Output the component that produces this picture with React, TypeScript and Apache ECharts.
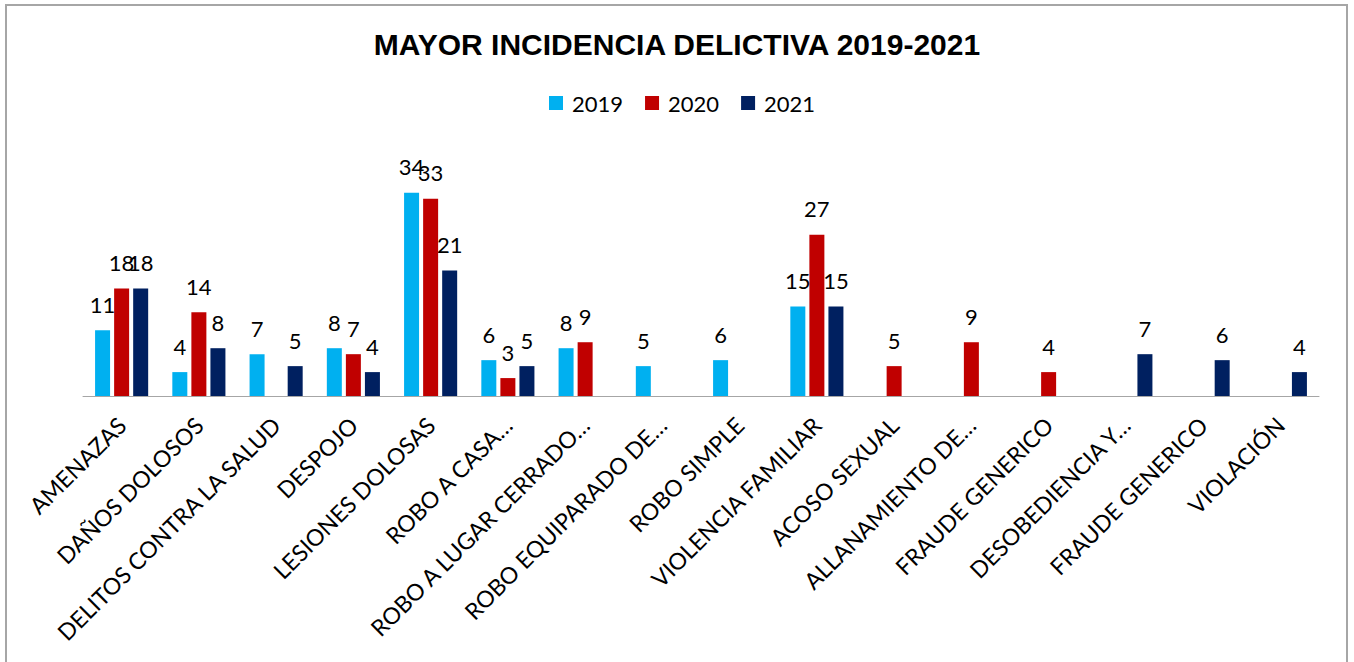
import React, { useEffect, useRef } from "react";
import * as echarts from "echarts";

const categories = [
  "AMENAZAS",
  "DAÑOS DOLOSOS",
  "DELITOS CONTRA LA SALUD",
  "DESPOJO",
  "LESIONES DOLOSAS",
  "ROBO A CASA…",
  "ROBO A LUGAR CERRADO…",
  "ROBO EQUIPARADO DE…",
  "ROBO SIMPLE",
  "VIOLENCIA FAMILIAR",
  "ACOSO SEXUAL",
  "ALLANAMIENTO DE…",
  "FRAUDE GENERICO",
  "DESOBEDIENCIA Y…",
  "FRAUDE GENERICO",
  "VIOLACIÓN",
];

const values2019 = [11, 4, 7, 8, 34, 6, 8, 5, 6, 15, null, null, null, null, null, null];
const values2020 = [18, 14, null, 7, 33, 3, 9, null, null, 27, 5, 9, 4, null, null, null];
const values2021 = [18, 8, 5, 4, 21, 5, null, null, null, 15, null, null, null, 7, 6, 4];

const seriesNames = ["2019", "2020", "2021"];
const seriesColors = ["#00B0F0", "#C00000", "#002060"];

const LABEL_FONT = "Lato, 'Open Sans', sans-serif";

export default function App() {
  const ref = useRef<HTMLDivElement>(null);

  useEffect(() => {
    if (!ref.current) return;
    const chart = echarts.init(ref.current, undefined, { renderer: "svg" });
    const data = [values2019, values2020, values2021];
    chart.setOption({
      animation: false,
      backgroundColor: "#ffffff",
      title: {
        text: "MAYOR INCIDENCIA DELICTIVA 2019-2021",
        left: "center",
        top: 24,
        textStyle: {
          fontFamily: "'Liberation Sans', Arial, sans-serif",
          fontWeight: "bold",
          fontSize: 30,
          color: "#000000",
        },
      },
      legend: {
        left: 544,
        top: 87,
        itemWidth: 14,
        itemHeight: 14,
        itemGap: 22,
        icon: "rect",
        data: seriesNames,
        textStyle: {
          fontFamily: LABEL_FONT,
          fontSize: 22,
          color: "#000000",
          padding: [0, 0, 0, 4],
        },
      },
      graphic: [
        {
          type: "rect",
          silent: true,
          shape: { x: 6, y: 5, width: 1341, height: 700 },
          style: { fill: "none", stroke: "#a6a6a6", lineWidth: 2 },
        },
      ],
      grid: {
        left: 83,
        right: 35,
        top: 157,
        bottom: 266,
        containLabel: false,
      },
      xAxis: {
        type: "category",
        data: categories,
        axisLine: { show: true, lineStyle: { color: "#a6a6a6", width: 1 } },
        axisTick: { show: false },
        axisLabel: {
          interval: 0,
          rotate: 45,
          margin: 25,
          fontFamily: LABEL_FONT,
          fontSize: 23,
          color: "#000000",
        },
      },
      yAxis: {
        type: "value",
        min: 0,
        max: 40,
        show: false,
        splitLine: { show: false },
      },
      series: seriesNames.map((name, i) => ({
        name,
        type: "bar",
        data: data[i],
        barWidth: 15,
        barGap: "27%",
        itemStyle: { color: seriesColors[i] },
        label: {
          show: true,
          position: "top",
          distance: 15,
          fontFamily: LABEL_FONT,
          fontSize: 22,
          color: "#000000",
        },
      })),
    });
    return () => {
      chart.dispose();
    };
  }, []);

  return (
    <div
      ref={ref}
      style={{ position: "fixed", left: 0, top: 0, width: 1354, height: 662 }}
    />
  );
}
